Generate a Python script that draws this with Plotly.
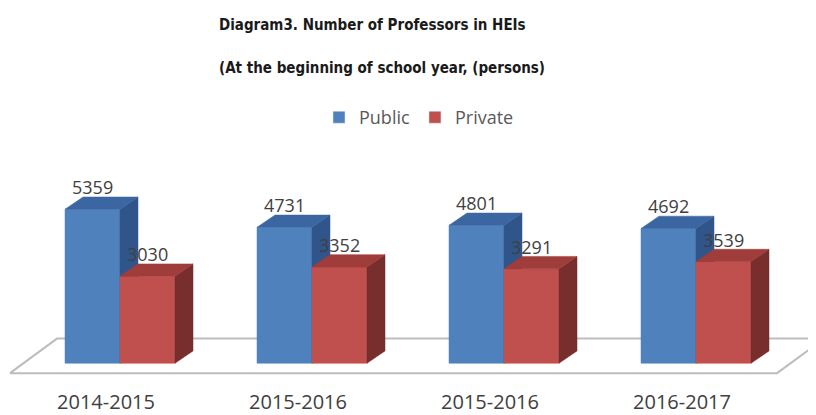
import plotly.graph_objects as go

# ---- data ----
categories = ["2014-2015", "2015-2016", "2015-2016", "2016-2017"]
public = [5359, 4731, 4801, 4692]
private = [3030, 3352, 3291, 3539]
series_names = ["Public", "Private"]

# ---- style / geometry (page pixels; the page body adds an 8 px offset) ----
PAGE_W, PAGE_H, OFF = 816, 415, 8
W, H = PAGE_W - OFF, PAGE_H - OFF
MB = 25
PH = H - MB
PX_PER_X = 192.0
X0 = -(120 - OFF) / PX_PER_X
PX_PER_Y = 156.0 / 5359.0
BASE = 368 - OFF
Y_LO = -(PH - BASE) / PX_PER_Y
Y_HI = BASE / PX_PER_Y


def px(page_x):
    return (page_x - OFF) / W


def py(page_y):
    return (PH - (page_y - OFF)) / PH


bar_w = 55 / PX_PER_X
dx = 18 / PX_PER_X
dy = 12.5 / PX_PER_Y

front_cols = ["#4F81BD", "#C0504D"]
side_cols = ["#30558A", "#782E2C"]
top_cols = ["#3B66A1", "#9E3D3A"]

fig = go.Figure()

# floor (parallelogram)
n = len(categories)
fl_l = -0.573
fl_r = (n - 1) + 0.422
fl_front = -10 / PX_PER_Y
fl_back = 25 / PX_PER_Y
fl_dx = 47 / PX_PER_X
fig.add_trace(go.Scatter(
    x=[fl_l, fl_r, fl_r + fl_dx, fl_l + fl_dx, fl_l],
    y=[fl_front, fl_front, fl_back, fl_back, fl_front],
    mode="lines", fill="toself", fillcolor="white",
    line=dict(color="#BDBDBD", width=2), showlegend=False, hoverinfo="skip"))


def faces(vals, offset):
    fx, fy, sx, sy, tx, ty = [], [], [], [], [], []
    for i, v in enumerate(vals):
        x0 = i + offset
        x1 = x0 + bar_w
        fx += [x0, x1, x1, x0, x0, None]
        fy += [0, 0, v, v, 0, None]
        sx += [x1, x1 + dx, x1 + dx, x1, x1, None]
        sy += [0, dy, v + dy, v, 0, None]
        tx += [x0, x1, x1 + dx, x0 + dx, x0, None]
        ty += [v, v, v + dy, v + dy, v, None]
    return (fx, fy), (sx, sy), (tx, ty)


for k, (vals, off) in enumerate([(public, -bar_w), (private, 0.0)]):
    (fx, fy), (sx, sy), (tx, ty) = faces(vals, off)
    for (xx, yy), col in [((fx, fy), front_cols[k]), ((sx, sy), side_cols[k]), ((tx, ty), top_cols[k])]:
        fig.add_trace(go.Scatter(x=xx, y=yy, mode="lines", fill="toself", fillcolor=col,
                                 line=dict(color=col, width=0.5), showlegend=False,
                                 hoverinfo="skip"))
    for i, v in enumerate(vals):
        fig.add_annotation(x=i + off + bar_w / 2, y=v, text=str(v), showarrow=False,
                           yshift=22, font=dict(family="Open Sans", size=18, color="#404040"))

# legend entries
for k, name in enumerate(series_names):
    fig.add_trace(go.Bar(x=[None], y=[None], name=name, marker_color=front_cols[k]))

title_font = dict(family="DejaVu Sans Condensed, DejaVu Sans, sans-serif", size=15, color="#1A1A1A")
fig.add_annotation(x=px(217), y=py(25), xref="paper", yref="paper", xanchor="left",
                   yanchor="middle", showarrow=False,
                   text="<b>Diagram3. Number of Professors in HEIs</b>", font=title_font)
fig.add_annotation(x=px(217), y=py(69), xref="paper", yref="paper", xanchor="left",
                   yanchor="middle", showarrow=False,
                   text="<b>(At the beginning of school year, (persons)</b>", font=title_font)

fig.update_layout(
    width=W, height=H,
    margin=dict(l=0, r=0, t=0, b=MB),
    paper_bgcolor="white", plot_bgcolor="white",
    showlegend=True,
    legend=dict(orientation="h", x=px(319), y=py(119), xanchor="left", yanchor="middle",
                font=dict(family="Open Sans", size=18, color="#595959"),
                bgcolor="rgba(0,0,0,0)"),
    xaxis=dict(range=[X0, X0 + W / PX_PER_X], showgrid=False, zeroline=False, showline=False,
               tickvals=[i - 14 / PX_PER_X for i in range(n)], ticktext=categories,
               ticks="", ticklabelstandoff=3,
               tickfont=dict(family="Open Sans", size=20, color="#404040"),
               fixedrange=True),
    yaxis=dict(range=[Y_LO, Y_HI], showgrid=False, zeroline=False, showline=False,
               showticklabels=False, fixedrange=True),
)

fig.write_html("out.html")
